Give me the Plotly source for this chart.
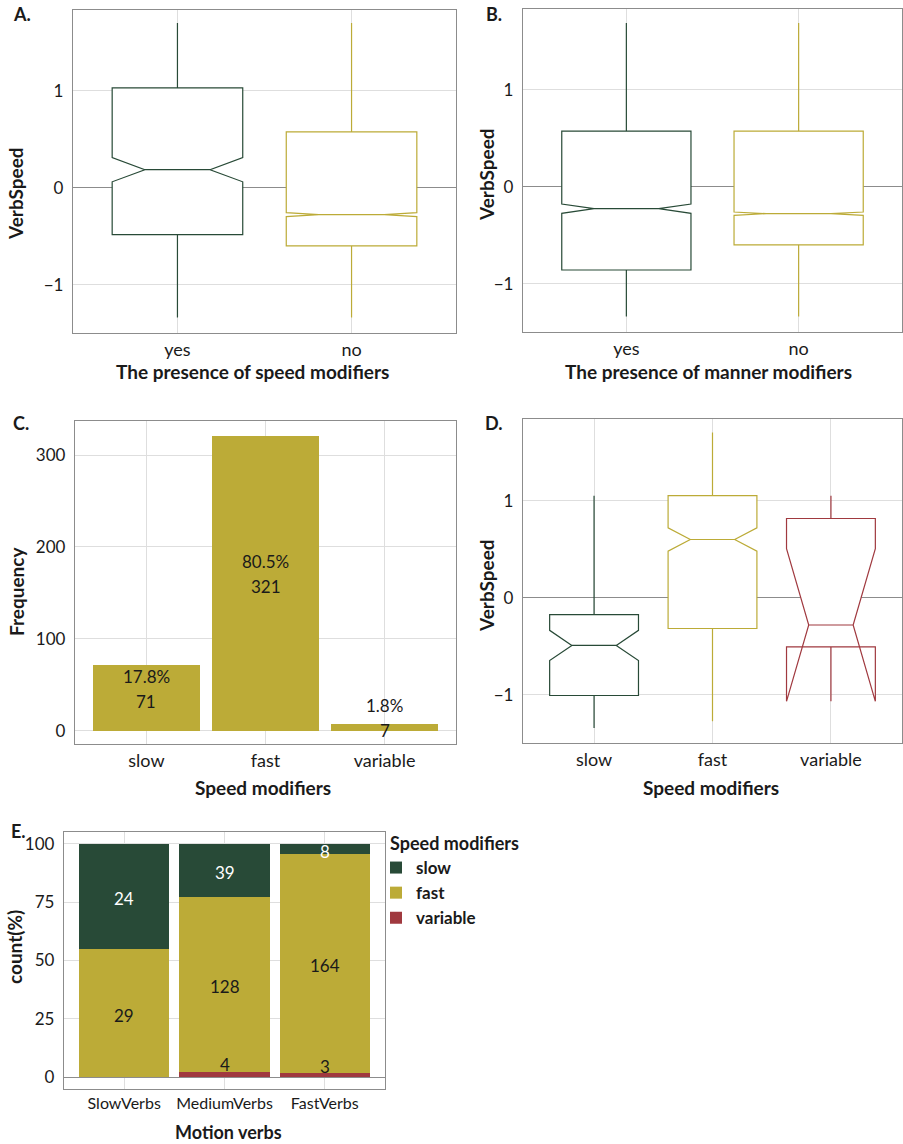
import plotly.graph_objects as go

W, H = 903, 1144
GREEN = '#284A37'
YELLOW = '#BCAB37'
RED = '#A0393F'
FONT = 'Lato'
TXT = '#1a1a1a'

# ---------------- data ----------------
A_cats = ['yes', 'no']
A_q1 = [-0.485, -0.60]
A_med = [0.186, -0.278]
A_q3 = [1.03, 0.577]
A_lo = [-1.34, -1.34]
A_hi = [1.70, 1.70]
A_notch = [0.125, 0.02]

B_cats = ['yes', 'no']
B_q1 = [-0.86, -0.60]
B_med = [-0.227, -0.278]
B_q3 = [0.574, 0.574]
B_lo = [-1.34, -1.34]
B_hi = [1.69, 1.69]
B_notch = [0.048, 0.017]

C_cats = ['slow', 'fast', 'variable']
C_counts = [71, 321, 7]

D_cats = ['slow', 'fast', 'variable']
D_q1 = [-1.005, -0.316, -0.504]
D_med = [-0.49, 0.60, -0.28]
D_q3 = [-0.172, 1.052, 0.816]
D_lo = [-1.34, -1.27, -0.525]
D_hi = [1.05, 1.70, 1.05]
D_notch = [0.155, 0.12, 0.785]

E_verbs = ['SlowVerbs', 'MediumVerbs', 'FastVerbs']
E_slow = [24, 39, 8]
E_fast = [29, 128, 164]
E_var = [0, 4, 3]

box_colors2 = [GREEN, YELLOW]
box_colors3 = [GREEN, YELLOW, RED]


def px_x(p):
    return p / W


def px_y(p):
    return 1 - p / H


fig = go.Figure()


def add_boxes(cats, q1, med, q3, lo, hi, notch, colors, xa, ya):
    for i, c in enumerate(cats):
        fig.add_trace(go.Box(
            x=[c], q1=[q1[i]], median=[med[i]], q3=[q3[i]],
            lowerfence=[lo[i]], upperfence=[hi[i]], notchspan=[notch[i]],
            notched=True, notchwidth=0.25, width=0.75, whiskerwidth=0,
            boxpoints=False, fillcolor='white',
            line=dict(color=colors[i], width=1.2),
            xaxis=xa, yaxis=ya, showlegend=False, hoverinfo='skip'))


add_boxes(A_cats, A_q1, A_med, A_q3, A_lo, A_hi, A_notch, box_colors2, 'x', 'y')
add_boxes(B_cats, B_q1, B_med, B_q3, B_lo, B_hi, B_notch, box_colors2, 'x2', 'y2')

# C bars
fig.add_trace(go.Bar(x=C_cats, y=C_counts, width=0.9, marker=dict(color=YELLOW, line=dict(width=0)),
                     xaxis='x3', yaxis='y3', showlegend=False, hoverinfo='skip'))

add_boxes(D_cats, D_q1, D_med, D_q3, D_lo, D_hi, D_notch, box_colors3, 'x4', 'y4')

# E stacked percentage bars
tot = [s + f + v for s, f, v in zip(E_slow, E_fast, E_var)]
pv = [v / t * 100 for v, t in zip(E_var, tot)]
pf = [f / t * 100 for f, t in zip(E_fast, tot)]
ps = [s / t * 100 for s, t in zip(E_slow, tot)]
fig.add_trace(go.Bar(x=E_verbs, y=pv, name='variable', width=0.9, marker=dict(color=RED, line=dict(width=0)),
                     xaxis='x5', yaxis='y5', legendrank=3, hoverinfo='skip'))
fig.add_trace(go.Bar(x=E_verbs, y=pf, name='fast', width=0.9, marker=dict(color=YELLOW, line=dict(width=0)),
                     xaxis='x5', yaxis='y5', legendrank=2, hoverinfo='skip'))
fig.add_trace(go.Bar(x=E_verbs, y=ps, name='slow', width=0.9, marker=dict(color=GREEN, line=dict(width=0)),
                     xaxis='x5', yaxis='y5', legendrank=1, hoverinfo='skip'))

# ---------------- axes ----------------
GRID = '#DEDEDE'
FRAME = '#8C8C8C'


def xax(dom, rng, cats, fs=18):
    return dict(domain=[px_x(dom[0]), px_x(dom[1])], range=rng, type='category',
                categoryorder='array', categoryarray=cats, automargin=False,
                showgrid=True, gridcolor=GRID, gridwidth=1, zeroline=False,
                showline=True, mirror=True, linecolor=FRAME, linewidth=1.3,
                ticks='', tickfont=dict(size=fs, color=TXT, family=FONT), ticklabelstandoff=0)


def yax(dom, rng, anchor, tickvals, zl=True):
    return dict(domain=[px_y(dom[1]), px_y(dom[0])], range=rng, anchor=anchor, automargin=False,
                tickvals=tickvals, showgrid=True, gridcolor=GRID, gridwidth=1,
                zeroline=zl, zerolinecolor='#8C8C8C', zerolinewidth=1.3,
                showline=True, mirror=True, linecolor=FRAME, linewidth=1.3,
                ticks='', tickfont=dict(size=17, color=TXT, family=FONT), ticklabelstandoff=5)


fig.update_layout(
    template='none',
    width=W, height=H, margin=dict(l=0, r=0, t=0, b=0, autoexpand=False),
    paper_bgcolor='white', plot_bgcolor='white',
    font=dict(family=FONT, color=TXT),
    boxmode='overlay', barmode='stack', bargap=0.1,
    xaxis=xax((73, 456), [-0.6, 1.6], A_cats) | dict(anchor='y'),
    yaxis=yax((10, 333), [-1.5, 1.835], 'x', [-1, 0, 1]),
    xaxis2=xax((523, 902), [-0.6, 1.6], B_cats) | dict(anchor='y2'),
    yaxis2=yax((9, 332), [-1.5, 1.835], 'x2', [-1, 0, 1]),
    xaxis3=xax((75, 456), [-0.6, 2.6], C_cats) | dict(anchor='y3'),
    yaxis3=yax((421, 744), [-14.5, 337], 'x3', [0, 100, 200, 300], zl=False),
    xaxis4=xax((523, 902), [-0.6, 2.6], D_cats) | dict(anchor='y4'),
    yaxis4=yax((419, 743), [-1.494, 1.84], 'x4', [-1, 0, 1]),
    xaxis5=xax((64, 385), [-0.6, 2.6], E_verbs, fs=16) | dict(anchor='y5'),
    yaxis5=yax((832, 1089), [-5, 105], 'x5', [0, 25, 50, 75, 100]),
    legend=dict(x=px_x(376), y=px_y(850), xanchor='left', yanchor='top',
                font=dict(size=17, family=FONT, color=TXT, weight='bold'), traceorder='normal',
                bgcolor='rgba(0,0,0,0)', itemwidth=30),
)

ann = []


def add_text(text, x, y, size=19, bold=True, angle=0, xanchor='center'):
    ann.append(dict(text=f'<b>{text}</b>' if bold else text, x=px_x(x), y=px_y(y), xref='paper', yref='paper',
                    showarrow=False, textangle=angle, xanchor=xanchor, yanchor='middle',
                    font=dict(size=size, family=FONT, color=TXT)))


# panel letters
add_text('A.', 22, 14, size=18)
add_text('B.', 494, 14, size=18)
add_text('C.', 21, 423, size=18)
add_text('D.', 494, 423, size=18)
add_text('E.', 18, 831, size=18)

# legend title
add_text('Speed modifiers', 388, 843, size=18, xanchor='left')

# axis titles
add_text('VerbSpeed', 15, 194, angle=-90)
add_text('VerbSpeed', 487, 175, angle=-90)
add_text('Frequency', 16, 592, angle=-90)
add_text('VerbSpeed', 487, 586, angle=-90)
add_text('count(%)', 14, 947, angle=-90)
add_text('The presence of speed modifiers', 252, 371)
add_text('The presence of manner modifiers', 708, 371)
add_text('Speed modifiers', 263, 787)
add_text('Speed modifiers', 711, 787)
add_text('Motion verbs', 228, 1132, size=18)

# C labels
totC = sum(C_counts)
for c, v in zip(C_cats, C_counts):
    ann.append(dict(text=f'{v / totC * 100:.1f}%', x=c, y=v / 2, xref='x3', yref='y3', showarrow=False,
                    yshift=22, font=dict(size=17, family=FONT, color=TXT)))
    ann.append(dict(text=str(v), x=c, y=v / 2, xref='x3', yref='y3', showarrow=False,
                    yshift=-3, font=dict(size=17, family=FONT, color=TXT)))

# E labels
for i, vb in enumerate(E_verbs):
    if E_var[i] > 0:
        ann.append(dict(text=str(E_var[i]), x=vb, y=pv[i], xref='x5', yref='y5', showarrow=False,
                        yshift=7, font=dict(size=17, family=FONT, color=TXT)))
    ann.append(dict(text=str(E_fast[i]), x=vb, y=pv[i] + pf[i] / 2, xref='x5', yref='y5', showarrow=False,
                    yshift=-2, font=dict(size=17, family=FONT, color=TXT)))
    ann.append(dict(text=str(E_slow[i]), x=vb, y=pv[i] + pf[i] + ps[i] / 2, xref='x5', yref='y5',
                    showarrow=False, yshift=-2, font=dict(size=17, family=FONT, color='white')))

fig.update_layout(annotations=ann)
fig.write_html('out.html', config={'displayModeBar': False},
               post_script="document.body.style.margin='0';document.body.style.padding='0';")
